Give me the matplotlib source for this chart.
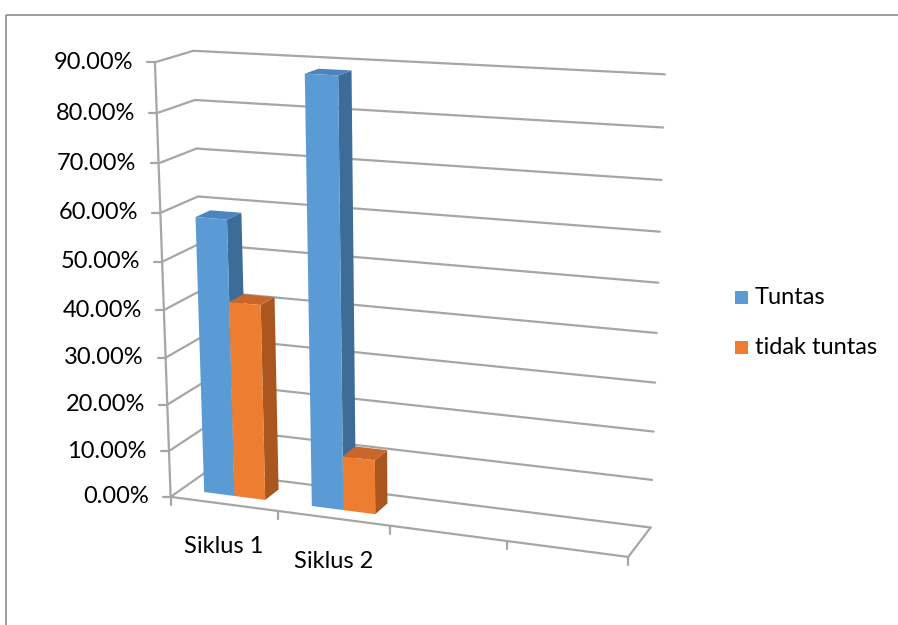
import numpy as np
import matplotlib.pyplot as plt
from matplotlib.patches import Polygon, Rectangle

# data
categories = ['Siklus 1', 'Siklus 2', '', '']
series_names = ['Tuntas', 'tidak tuntas']
tuntas = [0.585, 0.885]
tidak_tuntas = [0.415, 0.115]
y_ticks = [0.0, 0.1, 0.2, 0.3, 0.4, 0.5, 0.6, 0.7, 0.8, 0.9]

face_cols = ['#5B9BD5', '#ED7D31']
side_cols = ['#3D6C98', '#A9561F']
top_cols = ['#4C84BD', '#C9672A']
grid_col = '#A6A6A6'

plt.rcParams['font.family'] = ['Lato', 'DejaVu Sans']

# camera fit for the 3d box: world (x, value, depth) -> pixel
world = np.array([(0, .9, 0), (0, 0, 0), (0, .9, 1), (1, .9, 1), (1, 0, 1), (1, 0, 0),
                  (0, .8, 0), (0, .8, 1), (1, .8, 1), (1, .1, 1),
                  (.25, 0, 0), (.5, 0, 0), (.75, 0, 0)], float)
pix = np.array([(155, 63), (171, 497), (193, 51), (665, 74), (651, 527), (628, 557),
                (157, 112), (195, 100), (663, 128), (652, 480),
                (278, 511), (390, 526), (507, 541)], float)
rows = []
for (X, Y, Z), (u, v) in zip(world, pix):
    rows.append([X, Y, Z, 1, 0, 0, 0, 0, -u * X, -u * Y, -u * Z, -u])
    rows.append([0, 0, 0, 0, X, Y, Z, 1, -v * X, -v * Y, -v * Z, -v])
_, _, vt = np.linalg.svd(np.array(rows))
P = vt[-1].reshape(3, 4)


def proj(x, y, z):
    h = P @ np.array([x, y, z, 1.0])
    return h[0] / h[2], h[1] / h[2]


def line3(ax, a, b, **kw):
    pa, pb = proj(*a), proj(*b)
    ax.plot([pa[0], pb[0]], [pa[1], pb[1]], **kw)


fig = plt.figure(figsize=(8.98, 6.25), dpi=100)
ax = fig.add_axes([0, 0, 1, 1])
ax.set_xlim(0, 898)
ax.set_ylim(625, 0)
ax.axis('off')

ax.add_patch(Rectangle((6, 15), 950, 700, fill=False, ec='#8C8C8C', lw=1.2))

gkw = dict(color=grid_col, lw=1.6, solid_capstyle='round', zorder=2)
for v in y_ticks:
    line3(ax, (0, v, 0), (0, v, 1), **gkw)
    line3(ax, (0, v, 1), (1, v, 1), **gkw)
    px, py = proj(0, v, 0)
    ax.plot([px - 8, px], [py, py], **gkw)
    ax.text(px - 22, py, f'{v * 100:.2f}%', ha='right', va='center', fontsize=17, color='#000000')
line3(ax, (0, 0, 0), (0, 0.9, 0), **gkw)
line3(ax, (0, 0, 0), (1, 0, 0), **gkw)
line3(ax, (1, 0, 0), (1, 0, 1), **gkw)

n = len(categories)
slot = 1.0 / n
for k in range(n + 1):
    px, py = proj(k * slot, 0, 0)
    ax.plot([px, px], [py, py + 8], **gkw)
for i, c in enumerate(categories):
    px, py = proj((i + 0.5) * slot, 0, 0)
    ax.text(px, py + 43, c, ha='center', va='center', fontsize=17)

# bars
w = slot / 3.5
z0, z1 = 0.3, 0.7
for i in range(len(tuntas)):
    for s, vals in enumerate([tuntas, tidak_tuntas]):
        x0 = i * slot + 0.75 * w + s * w
        x1 = x0 + w
        h = vals[i]
        front = [proj(x0, 0, z0), proj(x1, 0, z0), proj(x1, h, z0), proj(x0, h, z0)]
        side = [proj(x1, 0, z0), proj(x1, 0, z1), proj(x1, h, z1), proj(x1, h, z0)]
        top = [proj(x0, h, z0), proj(x1, h, z0), proj(x1, h, z1), proj(x0, h, z1)]
        ax.add_patch(Polygon(side, closed=True, fc=side_cols[s], ec='none', zorder=3))
        ax.add_patch(Polygon(top, closed=True, fc=top_cols[s], ec='none', zorder=3))
        ax.add_patch(Polygon(front, closed=True, fc=face_cols[s], ec='none', zorder=3))

# legend
for s, name in enumerate(series_names):
    ly = 298 + s * 50
    ax.add_patch(Rectangle((735, ly - 7), 13, 13, fc=face_cols[s], ec='none'))
    ax.text(755, ly, name, ha='left', va='center', fontsize=17)

fig.savefig('out.png', dpi=100)
